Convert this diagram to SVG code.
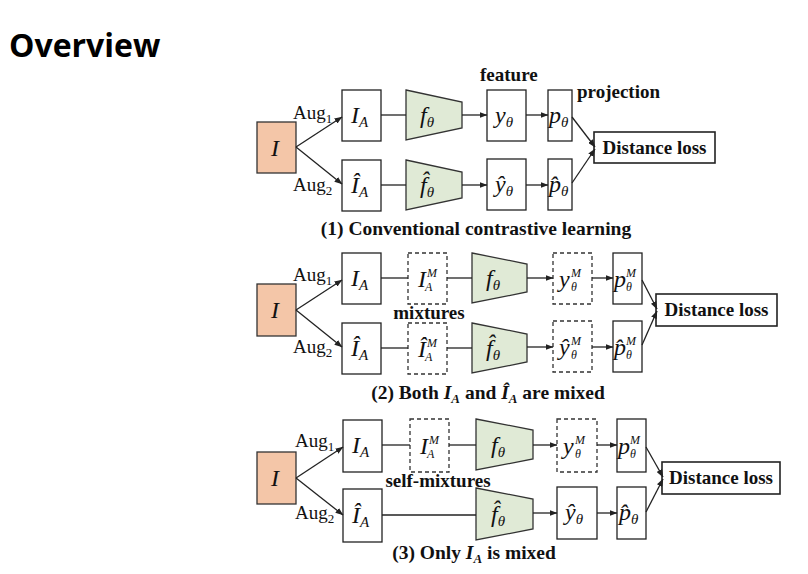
<svg xmlns="http://www.w3.org/2000/svg" width="808" height="574" viewBox="0 0 808 574">
<defs>
<marker id="ah" markerWidth="8" markerHeight="6" refX="7.5" refY="3" orient="auto" markerUnits="userSpaceOnUse">
<path d="M0,0 L8,3 L0,6 z" fill="#222"/>
</marker>
<style>
.bx{fill:#fff;stroke:#222;stroke-width:1.3}
.dbx{fill:#fff;stroke:#333;stroke-width:1.3;stroke-dasharray:4,3}
.src{fill:#f4c6a8;stroke:#333;stroke-width:1.3}
.enc{fill:#e0ead6;stroke:#333;stroke-width:1.3}
.loss{fill:#fff;stroke:#222;stroke-width:1.6}
.ln{stroke:#222;stroke-width:1.3;fill:none}
.ar{stroke:#222;stroke-width:1.3;fill:none;marker-end:url(#ah)}
.m{font-family:"Liberation Serif",serif;font-style:italic;font-size:24px;fill:#111}
.s{font-size:15px}
.sup{font-family:"Liberation Serif",serif;font-style:italic;font-size:12px;fill:#111}
.aug{font-family:"Liberation Serif",serif;font-size:19px;fill:#111}
.augs{font-size:13px}
.b{font-family:"Liberation Serif",serif;font-weight:bold;font-size:19px;fill:#111}
.cap{font-family:"Liberation Serif",serif;font-weight:bold;font-size:19.5px;fill:#111;text-anchor:middle}
.title{font-family:"Open Sans","Noto Sans",sans-serif;font-weight:bold;font-size:32px;fill:#000}
</style>
</defs>
<rect width="808" height="574" fill="#fff"/>
<text class="title" x="9" y="57">Overview</text>

<!-- Panel 1 -->
<g id="p1-I"><rect class="src" x="257" y="122" width="39" height="51"/><text class="m" x="271" y="156">I</text></g>
<g id="p1-IA"><rect class="bx" x="342" y="90" width="39" height="51"/><text class="m" x="351" y="123">I<tspan class="s" dy="4">A</tspan></text></g>
<g id="p1-f"><polygon class="enc" points="406,90 462,102 462,128 406,140"/><text class="m" x="420" y="123">f<tspan class="s" dy="4">θ</tspan></text></g>
<g id="p1-y"><rect class="bx" x="487" y="90" width="39" height="51"/><text class="m" x="495" y="123">y<tspan class="s" dy="4">θ</tspan></text></g>
<g id="p1-p"><rect class="bx" x="548" y="90" width="24" height="51"/><text class="m" x="549" y="123">p<tspan class="s" dy="4">θ</tspan></text></g>
<g id="p1-IAh"><rect class="bx" x="342" y="160" width="39" height="51"/><text class="m" x="351" y="193">Î<tspan class="s" dy="4">A</tspan></text></g>
<g id="p1-fh"><polygon class="enc" points="406,160 462,172 462,198 406,210"/><text class="m" x="420" y="193">f̂<tspan class="s" dy="4">θ</tspan></text></g>
<g id="p1-yh"><rect class="bx" x="487" y="159" width="39" height="51"/><text class="m" x="495" y="192">ŷ<tspan class="s" dy="4">θ</tspan></text></g>
<g id="p1-ph"><rect class="bx" x="548" y="159" width="24" height="51"/><text class="m" x="549" y="192">p̂<tspan class="s" dy="4">θ</tspan></text></g>
<g id="p1-loss"><rect class="loss" x="594" y="132" width="121" height="31"/><text class="b" x="654.5" y="154" text-anchor="middle">Distance loss</text></g>
<g id="p1-labels">
<text class="aug" x="293" y="119">Aug<tspan class="augs" dy="4">1</tspan></text>
<text class="aug" x="293" y="191">Aug<tspan class="augs" dy="4">2</tspan></text>
<text class="b" x="480" y="81">feature</text>
<text class="b" x="577" y="98">projection</text>
<text class="cap" x="476" y="235">(1) Conventional contrastive learning</text>
</g>
<g id="p1-edges">
<line class="ar" x1="296" y1="147" x2="342" y2="117"/>
<line class="ar" x1="296" y1="147" x2="342" y2="184"/>
<line class="ln" x1="381" y1="115" x2="406" y2="115"/>
<line class="ar" x1="462" y1="115" x2="487" y2="115"/>
<line class="ar" x1="526" y1="115" x2="548" y2="115"/>
<line class="ln" x1="381" y1="185" x2="406" y2="185"/>
<line class="ar" x1="462" y1="185" x2="487" y2="185"/>
<line class="ar" x1="526" y1="185" x2="548" y2="185"/>
<line class="ar" x1="572" y1="117" x2="595" y2="147"/>
<line class="ar" x1="572" y1="183" x2="595" y2="149"/>
</g>

<!-- Panel 2 -->
<g id="p2-I"><rect class="src" x="257" y="284" width="39" height="52"/><text class="m" x="271" y="318">I</text></g>
<g id="p2-IA"><rect class="bx" x="342" y="253" width="39" height="51"/><text class="m" x="351" y="286">I<tspan class="s" dy="4">A</tspan></text></g>
<g id="p2-IM"><rect class="dbx" x="408" y="253" width="39" height="51"/><text class="m" x="418" y="287">I</text><text class="sup" x="427" y="277">M</text><text class="sup" x="425" y="291">A</text></g>
<g id="p2-f"><polygon class="enc" points="472,253 527,264 527,292 472,303"/><text class="m" x="486" y="286">f<tspan class="s" dy="4">θ</tspan></text></g>
<g id="p2-yM"><rect class="dbx" x="553" y="253" width="39" height="51"/><text class="m" x="559" y="287">y</text><text class="sup" x="571" y="277">M</text><text class="sup" x="571" y="291">θ</text></g>
<g id="p2-pM"><rect class="bx" x="613" y="253" width="29" height="51"/><text class="m" x="614" y="287">p</text><text class="sup" x="626" y="277">M</text><text class="sup" x="626" y="291">θ</text></g>
<g id="p2-IAh"><rect class="bx" x="342" y="323" width="39" height="51"/><text class="m" x="351" y="356">Î<tspan class="s" dy="4">A</tspan></text></g>
<g id="p2-IMh"><rect class="dbx" x="408" y="323" width="39" height="51"/><text class="m" x="418" y="357">Î</text><text class="sup" x="427" y="347">M</text><text class="sup" x="425" y="361">A</text></g>
<g id="p2-fh"><polygon class="enc" points="472,323 527,334 527,362 472,373"/><text class="m" x="486" y="356">f̂<tspan class="s" dy="4">θ</tspan></text></g>
<g id="p2-yMh"><rect class="dbx" x="553" y="321" width="39" height="51"/><text class="m" x="559" y="355">ŷ</text><text class="sup" x="571" y="345">M</text><text class="sup" x="571" y="359">θ</text></g>
<g id="p2-pMh"><rect class="bx" x="613" y="321" width="29" height="51"/><text class="m" x="614" y="355">p̂</text><text class="sup" x="626" y="345">M</text><text class="sup" x="626" y="359">θ</text></g>
<g id="p2-loss"><rect class="loss" x="656" y="294" width="121" height="32"/><text class="b" x="716.5" y="316" text-anchor="middle">Distance loss</text></g>
<g id="p2-labels">
<text class="aug" x="293" y="281">Aug<tspan class="augs" dy="4">1</tspan></text>
<text class="aug" x="293" y="353">Aug<tspan class="augs" dy="4">2</tspan></text>
<text class="b" x="429" y="319" text-anchor="middle">mixtures</text>
<text class="cap" x="488" y="399">(2) Both <tspan font-style="italic">I</tspan><tspan font-style="italic" font-size="13" dy="4">A</tspan><tspan dy="-4"> and </tspan><tspan font-style="italic">Î</tspan><tspan font-style="italic" font-size="13" dy="4">A</tspan><tspan dy="-4"> are mixed</tspan></text>
</g>
<g id="p2-edges">
<line class="ar" x1="296" y1="310" x2="342" y2="280"/>
<line class="ar" x1="296" y1="310" x2="342" y2="347"/>
<line class="ln" x1="381" y1="278" x2="408" y2="278"/>
<line class="ln" x1="447" y1="278" x2="472" y2="278"/>
<line class="ar" x1="527" y1="278" x2="553" y2="278"/>
<line class="ar" x1="592" y1="278" x2="613" y2="278"/>
<line class="ln" x1="381" y1="348" x2="408" y2="348"/>
<line class="ln" x1="447" y1="348" x2="472" y2="348"/>
<line class="ar" x1="527" y1="347" x2="553" y2="347"/>
<line class="ar" x1="592" y1="347" x2="613" y2="347"/>
<line class="ar" x1="642" y1="280" x2="657" y2="309"/>
<line class="ar" x1="642" y1="345" x2="657" y2="311"/>
</g>

<!-- Panel 3 -->
<g id="p3-I"><rect class="src" x="257" y="452" width="39" height="52"/><text class="m" x="271" y="486">I</text></g>
<g id="p3-IA"><rect class="bx" x="343" y="420" width="39" height="52"/><text class="m" x="352" y="453">I<tspan class="s" dy="4">A</tspan></text></g>
<g id="p3-IM"><rect class="dbx" x="410" y="419" width="39" height="53"/><text class="m" x="420" y="454">I</text><text class="sup" x="429" y="444">M</text><text class="sup" x="427" y="458">A</text></g>
<g id="p3-f"><polygon class="enc" points="476,419 533,430 533,459 476,470"/><text class="m" x="491" y="453">f<tspan class="s" dy="4">θ</tspan></text></g>
<g id="p3-yM"><rect class="dbx" x="557" y="419" width="40" height="53"/><text class="m" x="563" y="454">y</text><text class="sup" x="575" y="444">M</text><text class="sup" x="575" y="458">θ</text></g>
<g id="p3-pM"><rect class="bx" x="617" y="419" width="29" height="53"/><text class="m" x="618" y="454">p</text><text class="sup" x="630" y="444">M</text><text class="sup" x="630" y="458">θ</text></g>
<g id="p3-IAh"><rect class="bx" x="343" y="489" width="39" height="53"/><text class="m" x="352" y="523">Î<tspan class="s" dy="4">A</tspan></text></g>
<g id="p3-fh"><polygon class="enc" points="476,488 533,499 533,529 476,540"/><text class="m" x="491" y="522">f̂<tspan class="s" dy="4">θ</tspan></text></g>
<g id="p3-yh"><rect class="bx" x="557" y="487" width="40" height="52"/><text class="m" x="565" y="520">ŷ<tspan class="s" dy="4">θ</tspan></text></g>
<g id="p3-ph"><rect class="bx" x="617" y="487" width="29" height="52"/><text class="m" x="619" y="520">p̂<tspan class="s" dy="4">θ</tspan></text></g>
<g id="p3-loss"><rect class="loss" x="662" y="462" width="118" height="32"/><text class="b" x="721" y="484" text-anchor="middle">Distance loss</text></g>
<g id="p3-labels">
<text class="aug" x="295" y="447">Aug<tspan class="augs" dy="4">1</tspan></text>
<text class="aug" x="295" y="519">Aug<tspan class="augs" dy="4">2</tspan></text>
<text class="b" x="438" y="487" text-anchor="middle">self-mixtures</text>
<text class="cap" x="474" y="559">(3) Only <tspan font-style="italic">I</tspan><tspan font-style="italic" font-size="13" dy="4">A</tspan><tspan dy="-4"> is mixed</tspan></text>
</g>
<g id="p3-edges">
<line class="ar" x1="296" y1="478" x2="343" y2="447"/>
<line class="ar" x1="296" y1="478" x2="343" y2="515"/>
<line class="ln" x1="382" y1="445" x2="410" y2="445"/>
<line class="ln" x1="449" y1="445" x2="476" y2="445"/>
<line class="ar" x1="533" y1="445" x2="557" y2="445"/>
<line class="ar" x1="597" y1="445" x2="617" y2="445"/>
<line class="ln" x1="382" y1="515" x2="476" y2="515"/>
<line class="ar" x1="533" y1="513" x2="557" y2="513"/>
<line class="ar" x1="597" y1="513" x2="617" y2="513"/>
<line class="ar" x1="646" y1="447" x2="663" y2="477"/>
<line class="ar" x1="646" y1="512" x2="663" y2="479"/>
</g>
</svg>
